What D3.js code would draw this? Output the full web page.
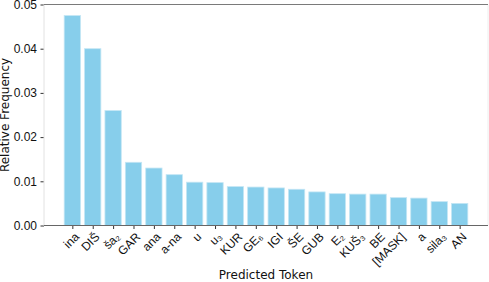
<!DOCTYPE html>
<html>
<head>
<meta charset="utf-8">
<script src="https://cdn.jsdelivr.net/npm/d3@7"></script>
<style>
  body { margin: 0; background: #fff; }
  svg { display: block; font-family: "DejaVu Sans", sans-serif; }
</style>
</head>
<body>
<div id="chart"></div>
<script>
(function () {
  'use strict';

  // Data
  var tokens = ['ina', 'DIŠ', 'ša₂', 'GAR', 'ana', 'a-na', 'u', 'u₃', 'KUR', 'GE₆',
                'IGI', 'ŠE', 'GUB', 'E₂', 'KUŠ₃', 'BE', '[MASK]', 'a', 'sila₃', 'AN'];
  var freqs = [0.0475, 0.0400, 0.0260, 0.0143, 0.0130, 0.0115, 0.0098, 0.0097, 0.0088, 0.0087,
               0.0085, 0.0082, 0.0076, 0.0072, 0.0071, 0.0071, 0.0063, 0.0062, 0.0054, 0.0050];
  var yTicks = [0, 0.01, 0.02, 0.03, 0.04, 0.05];

  var width = 489, height = 282;
  var margin = { top: 4.5, right: 1, bottom: 56.5, left: 44 };
  var innerW = width - margin.left - margin.right;
  var innerH = height - margin.top - margin.bottom;

  var svg = d3.select('#chart').append('svg')
    .attr('width', width)
    .attr('height', height);

  var g = svg.append('g')
    .attr('transform', 'translate(' + margin.left + ',' + margin.top + ')');

  // matplotlib-like band: bars 0.8 wide with 5% margins
  var x = d3.scaleLinear()
    .domain([-1.39, tokens.length - 1 + 1.39])
    .range([0, innerW]);
  var bw = x(0.4) - x(-0.4);

  var y = d3.scaleLinear()
    .domain([0, 0.05])
    .range([innerH, 0]);

  // Bars
  g.append('g').selectAll('rect')
    .data(freqs)
    .join('rect')
    .attr('x', function (d, i) { return x(i) - bw / 2; })
    .attr('y', function (d) { return y(d); })
    .attr('width', bw)
    .attr('height', function (d) { return innerH - y(d); })
    .attr('fill', '#87ceeb')
    .attr('stroke', '#c4e6f4')
    .attr('stroke-width', 0.8);

  // Y axis
  var yAxis = g.append('g')
    .call(d3.axisLeft(y).tickValues(yTicks).tickFormat(d3.format('.2f')).tickSize(3.5).tickPadding(3.5));
  yAxis.select('.domain').remove();
  yAxis.selectAll('line').attr('stroke', '#333');
  yAxis.selectAll('text').attr('font-size', 12).attr('fill', '#111');

  // X axis
  var xAxis = g.append('g')
    .attr('transform', 'translate(0,' + innerH + ')')
    .call(d3.axisBottom(x).tickValues(d3.range(tokens.length)).tickSize(3.5).tickFormat(''));
  xAxis.select('.domain').remove();
  xAxis.selectAll('line').attr('stroke', '#333');

  xAxis.selectAll('.tick')
    .append('text')
    .attr('transform', 'translate(1,6) rotate(-45)')
    .attr('text-anchor', 'end')
    .attr('dy', '0.72em')
    .attr('font-size', 12)
    .attr('fill', '#111')
    .text(function (d) { return tokens[d]; });

  // Spines
  g.append('line').attr('x1', 0).attr('x2', 0).attr('y1', 0).attr('y2', innerH)
    .attr('stroke', '#e2e2e2');
  g.append('line').attr('x1', innerW).attr('x2', innerW).attr('y1', 0).attr('y2', innerH)
    .attr('stroke', '#eeeeee');
  g.append('line').attr('x1', 0).attr('x2', innerW).attr('y1', 0).attr('y2', 0)
    .attr('stroke', '#7a7a7a');
  g.append('line').attr('x1', 0).attr('x2', innerW).attr('y1', innerH).attr('y2', innerH)
    .attr('stroke', '#666');

  // Axis titles
  svg.append('text')
    .attr('transform', 'translate(9,' + (margin.top + innerH / 2) + ') rotate(-90)')
    .attr('text-anchor', 'middle')
    .attr('font-size', 12)
    .attr('fill', '#111')
    .text('Relative Frequency');

  svg.append('text')
    .attr('x', margin.left + innerW / 2)
    .attr('y', 279)
    .attr('text-anchor', 'middle')
    .attr('font-size', 12)
    .attr('fill', '#111')
    .text('Predicted Token');
})();
</script>
</body>
</html>
